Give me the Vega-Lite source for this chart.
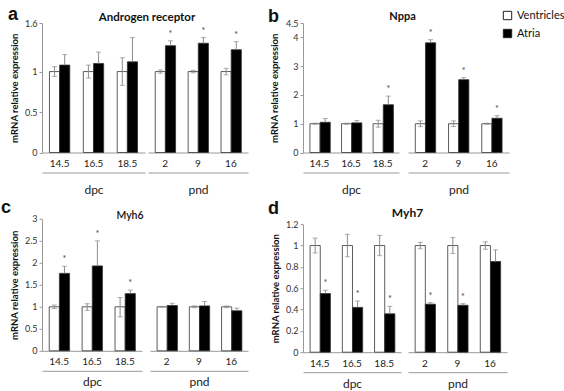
{
  "$schema": "https://vega.github.io/schema/vega-lite/v6.json",
  "padding": {"left": 1, "top": 6, "right": 0, "bottom": 0},
  "config": {
    "view": {"stroke": null},
    "axis": {"grid": false, "labelFont": "Lato", "titleFont": "Lato", "labelOverlap": false},
    "axisY": {"tickCount": 20},
    "title": {"font": "Lato", "color": "#111"},
    "text": {"font": "Lato"},
    "legend": {"orient": "none", "legendX": 460, "legendY": -13, "symbolType": "square", "symbolSize": 70, "symbolStrokeColor": "#222", "symbolStrokeWidth": 1, "labelFont": "Lato", "labelFontSize": 11, "labelColor": "#111", "rowPadding": 5, "title": null}
  },
  "data": {"values": [
    {"gene": "AR", "period": "dpc", "age": "14.5", "tissue": "Ventricles", "value": 1, "lo": 0.94, "hi": 1.06, "sig": ""},
    {"gene": "AR", "period": "dpc", "age": "14.5", "tissue": "Atria", "value": 1.08, "lo": 1.08, "hi": 1.21, "sig": ""},
    {"gene": "AR", "period": "dpc", "age": "16.5", "tissue": "Ventricles", "value": 1, "lo": 0.92, "hi": 1.08, "sig": ""},
    {"gene": "AR", "period": "dpc", "age": "16.5", "tissue": "Atria", "value": 1.1, "lo": 1.1, "hi": 1.24, "sig": ""},
    {"gene": "AR", "period": "dpc", "age": "18.5", "tissue": "Ventricles", "value": 1, "lo": 0.83, "hi": 1.17, "sig": ""},
    {"gene": "AR", "period": "dpc", "age": "18.5", "tissue": "Atria", "value": 1.12, "lo": 1.12, "hi": 1.42, "sig": ""},
    {"gene": "AR", "period": "pnd", "age": "2", "tissue": "Ventricles", "value": 1, "lo": 0.98, "hi": 1.02, "sig": ""},
    {"gene": "AR", "period": "pnd", "age": "2", "tissue": "Atria", "value": 1.32, "lo": 1.32, "hi": 1.38, "sig": "*"},
    {"gene": "AR", "period": "pnd", "age": "9", "tissue": "Ventricles", "value": 1, "lo": 0.985, "hi": 1.015, "sig": ""},
    {"gene": "AR", "period": "pnd", "age": "9", "tissue": "Atria", "value": 1.35, "lo": 1.35, "hi": 1.42, "sig": "*"},
    {"gene": "AR", "period": "pnd", "age": "16", "tissue": "Ventricles", "value": 1, "lo": 0.96, "hi": 1.04, "sig": ""},
    {"gene": "AR", "period": "pnd", "age": "16", "tissue": "Atria", "value": 1.27, "lo": 1.27, "hi": 1.37, "sig": "*"},
    {"gene": "Nppa", "period": "dpc", "age": "14.5", "tissue": "Ventricles", "value": 1, "lo": 0.98, "hi": 1.02, "sig": ""},
    {"gene": "Nppa", "period": "dpc", "age": "14.5", "tissue": "Atria", "value": 1.05, "lo": 1.05, "hi": 1.18, "sig": ""},
    {"gene": "Nppa", "period": "dpc", "age": "16.5", "tissue": "Ventricles", "value": 1, "lo": 0.98, "hi": 1.02, "sig": ""},
    {"gene": "Nppa", "period": "dpc", "age": "16.5", "tissue": "Atria", "value": 1.03, "lo": 1.03, "hi": 1.11, "sig": ""},
    {"gene": "Nppa", "period": "dpc", "age": "18.5", "tissue": "Ventricles", "value": 1, "lo": 0.88, "hi": 1.12, "sig": ""},
    {"gene": "Nppa", "period": "dpc", "age": "18.5", "tissue": "Atria", "value": 1.66, "lo": 1.66, "hi": 1.96, "sig": "*"},
    {"gene": "Nppa", "period": "pnd", "age": "2", "tissue": "Ventricles", "value": 1, "lo": 0.9, "hi": 1.1, "sig": ""},
    {"gene": "Nppa", "period": "pnd", "age": "2", "tissue": "Atria", "value": 3.81, "lo": 3.81, "hi": 3.92, "sig": "*"},
    {"gene": "Nppa", "period": "pnd", "age": "9", "tissue": "Ventricles", "value": 1, "lo": 0.9, "hi": 1.1, "sig": ""},
    {"gene": "Nppa", "period": "pnd", "age": "9", "tissue": "Atria", "value": 2.53, "lo": 2.53, "hi": 2.6, "sig": "*"},
    {"gene": "Nppa", "period": "pnd", "age": "16", "tissue": "Ventricles", "value": 1, "lo": 0.98, "hi": 1.02, "sig": ""},
    {"gene": "Nppa", "period": "pnd", "age": "16", "tissue": "Atria", "value": 1.19, "lo": 1.19, "hi": 1.28, "sig": "*"},
    {"gene": "Myh6", "period": "dpc", "age": "14.5", "tissue": "Ventricles", "value": 1, "lo": 0.96, "hi": 1.04, "sig": ""},
    {"gene": "Myh6", "period": "dpc", "age": "14.5", "tissue": "Atria", "value": 1.76, "lo": 1.76, "hi": 1.92, "sig": "*"},
    {"gene": "Myh6", "period": "dpc", "age": "16.5", "tissue": "Ventricles", "value": 1, "lo": 0.92, "hi": 1.07, "sig": ""},
    {"gene": "Myh6", "period": "dpc", "age": "16.5", "tissue": "Atria", "value": 1.93, "lo": 1.93, "hi": 2.5, "sig": "*"},
    {"gene": "Myh6", "period": "dpc", "age": "18.5", "tissue": "Ventricles", "value": 1, "lo": 0.77, "hi": 1.21, "sig": ""},
    {"gene": "Myh6", "period": "dpc", "age": "18.5", "tissue": "Atria", "value": 1.3, "lo": 1.3, "hi": 1.38, "sig": "*"},
    {"gene": "Myh6", "period": "pnd", "age": "2", "tissue": "Ventricles", "value": 1, "lo": 0.99, "hi": 1.01, "sig": ""},
    {"gene": "Myh6", "period": "pnd", "age": "2", "tissue": "Atria", "value": 1.03, "lo": 1.03, "hi": 1.08, "sig": ""},
    {"gene": "Myh6", "period": "pnd", "age": "9", "tissue": "Ventricles", "value": 1, "lo": 0.98, "hi": 1.02, "sig": ""},
    {"gene": "Myh6", "period": "pnd", "age": "9", "tissue": "Atria", "value": 1.02, "lo": 1.02, "hi": 1.12, "sig": ""},
    {"gene": "Myh6", "period": "pnd", "age": "16", "tissue": "Ventricles", "value": 1, "lo": 0.98, "hi": 1.02, "sig": ""},
    {"gene": "Myh6", "period": "pnd", "age": "16", "tissue": "Atria", "value": 0.91, "lo": 0.91, "hi": 0.97, "sig": ""},
    {"gene": "Myh7", "period": "dpc", "age": "14.5", "tissue": "Ventricles", "value": 1, "lo": 0.93, "hi": 1.07, "sig": ""},
    {"gene": "Myh7", "period": "dpc", "age": "14.5", "tissue": "Atria", "value": 0.55, "lo": 0.55, "hi": 0.58, "sig": "*"},
    {"gene": "Myh7", "period": "dpc", "age": "16.5", "tissue": "Ventricles", "value": 1, "lo": 0.895, "hi": 1.105, "sig": ""},
    {"gene": "Myh7", "period": "dpc", "age": "16.5", "tissue": "Atria", "value": 0.42, "lo": 0.42, "hi": 0.48, "sig": "*"},
    {"gene": "Myh7", "period": "dpc", "age": "18.5", "tissue": "Ventricles", "value": 1, "lo": 0.905, "hi": 1.095, "sig": ""},
    {"gene": "Myh7", "period": "dpc", "age": "18.5", "tissue": "Atria", "value": 0.36, "lo": 0.36, "hi": 0.43, "sig": "*"},
    {"gene": "Myh7", "period": "pnd", "age": "2", "tissue": "Ventricles", "value": 1, "lo": 0.97, "hi": 1.03, "sig": ""},
    {"gene": "Myh7", "period": "pnd", "age": "2", "tissue": "Atria", "value": 0.45, "lo": 0.45, "hi": 0.465, "sig": "*"},
    {"gene": "Myh7", "period": "pnd", "age": "9", "tissue": "Ventricles", "value": 1, "lo": 0.925, "hi": 1.075, "sig": ""},
    {"gene": "Myh7", "period": "pnd", "age": "9", "tissue": "Atria", "value": 0.44, "lo": 0.44, "hi": 0.455, "sig": "*"},
    {"gene": "Myh7", "period": "pnd", "age": "16", "tissue": "Ventricles", "value": 1, "lo": 0.965, "hi": 1.035, "sig": ""},
    {"gene": "Myh7", "period": "pnd", "age": "16", "tissue": "Atria", "value": 0.85, "lo": 0.85, "hi": 0.96, "sig": ""}
  ]},
  "align": "none",
  "spacing": 20,
  "hconcat": [
    {
      "align": "each",
      "spacing": 1.8,
      "vconcat": [
        {
          "bounds": "flush", "spacing": 3,
          "hconcat": [
            {
              "width": 103, "height": 129.5,
              "title": {"text": "a", "anchor": "start", "frame": "group", "dx": -34, "font": "Liberation Sans", "fontSize": 18, "fontWeight": "bold", "offset": -5.3},
              "transform": [{"filter": "datum.gene === 'AR' && datum.period === 'dpc'"}],
              "layer": [
                {
                  "encoding": {
                    "x": {"field": "age", "type": "nominal", "sort": null, "scale": {"paddingInner": 0.4, "paddingOuter": 0.22}, "axis": {"orient": "bottom", "title": null, "labelAngle": 0, "ticks": false, "domainColor": "#999", "labelPadding": 6, "labelFontSize": 10, "labelColor": "#222"}},
                    "xOffset": {"field": "tissue", "type": "nominal", "sort": ["Ventricles", "Atria"]}
                  },
                  "layer": [
                    {"mark": {"type": "bar", "stroke": "#333", "strokeWidth": 0.8}, "encoding": {"y": {"field": "value", "type": "quantitative", "title": "mRNA relative expression", "scale": {"domain": [0, 1.6]}, "axis": {"title": "mRNA relative expression", "values": [0, 0.5, 1, 1.6], "tickCount": 20, "format": "~g", "labelOverlap": false, "domainColor": "#999", "tickColor": "#999", "tickSize": 3, "labelFontSize": 9, "labelColor": "#333", "titleFontSize": 9.5, "titleFontWeight": "bold", "titleColor": "#111", "titlePadding": 5}}, "fill": {"field": "tissue", "type": "nominal", "title": null, "scale": {"domain": ["Ventricles", "Atria"], "range": ["#ffffff", "#000000"]}}}},
                    {"mark": {"type": "rule", "color": "#8c8c8c"}, "encoding": {"y": {"field": "lo", "type": "quantitative", "title": "mRNA relative expression", "scale": {"domain": [0, 1.6]}}, "y2": {"field": "hi"}}},
                    {"mark": {"type": "tick", "color": "#8c8c8c", "size": 5, "thickness": 1}, "encoding": {"y": {"field": "hi", "type": "quantitative", "title": "mRNA relative expression", "scale": {"domain": [0, 1.6]}}}},
                    {"transform": [{"filter": "datum.tissue === 'Ventricles'"}], "mark": {"type": "tick", "color": "#8c8c8c", "size": 5, "thickness": 1}, "encoding": {"y": {"field": "lo", "type": "quantitative", "title": "mRNA relative expression", "scale": {"domain": [0, 1.6]}}}},
                    {"transform": [{"filter": "datum.sig === '*'"}], "mark": {"type": "text", "dy": -7, "fontSize": 9, "color": "#444"}, "encoding": {"y": {"field": "hi", "type": "quantitative", "title": "mRNA relative expression", "scale": {"domain": [0, 1.6]}}, "text": {"field": "sig"}}}
                  ]
                },
                {"mark": {"type": "rule", "opacity": 0}, "encoding": {"x": {"field": "period", "type": "nominal", "axis": {"orient": "bottom", "offset": 20, "ticks": false, "labels": false, "domainColor": "#999", "title": "dpc", "titleFontSize": 12, "titleFontWeight": "normal", "titleColor": "#222", "titlePadding": 11.7}}}}
              ],
              "resolve": {"scale": {"x": "independent"}}
            },
            {
              "width": 100, "height": 129.5,
              "title": {"text": "Androgen receptor", "anchor": "middle", "frame": "group", "dx": -51, "fontSize": 11.5, "fontWeight": "bold", "offset": 0},
              "transform": [{"filter": "datum.gene === 'AR' && datum.period === 'pnd'"}],
              "layer": [
                {
                  "encoding": {
                    "x": {"field": "age", "type": "nominal", "sort": null, "scale": {"paddingInner": 0.4, "paddingOuter": 0.22}, "axis": {"orient": "bottom", "title": null, "labelAngle": 0, "ticks": false, "domainColor": "#999", "labelPadding": 6, "labelFontSize": 10, "labelColor": "#222"}},
                    "xOffset": {"field": "tissue", "type": "nominal", "sort": ["Ventricles", "Atria"]}
                  },
                  "layer": [
                    {"mark": {"type": "bar", "stroke": "#333", "strokeWidth": 0.8}, "encoding": {"y": {"field": "value", "type": "quantitative", "scale": {"domain": [0, 1.6]}, "axis": null}, "fill": {"field": "tissue", "type": "nominal", "title": null, "scale": {"domain": ["Ventricles", "Atria"], "range": ["#ffffff", "#000000"]}}}},
                    {"mark": {"type": "rule", "color": "#8c8c8c"}, "encoding": {"y": {"field": "lo", "type": "quantitative", "scale": {"domain": [0, 1.6]}, "axis": null}, "y2": {"field": "hi"}}},
                    {"mark": {"type": "tick", "color": "#8c8c8c", "size": 5, "thickness": 1}, "encoding": {"y": {"field": "hi", "type": "quantitative", "scale": {"domain": [0, 1.6]}, "axis": null}}},
                    {"transform": [{"filter": "datum.tissue === 'Ventricles'"}], "mark": {"type": "tick", "color": "#8c8c8c", "size": 5, "thickness": 1}, "encoding": {"y": {"field": "lo", "type": "quantitative", "scale": {"domain": [0, 1.6]}, "axis": null}}},
                    {"transform": [{"filter": "datum.sig === '*'"}], "mark": {"type": "text", "dy": -7, "fontSize": 9, "color": "#444"}, "encoding": {"y": {"field": "hi", "type": "quantitative", "scale": {"domain": [0, 1.6]}, "axis": null}, "text": {"field": "sig"}}}
                  ]
                },
                {"mark": {"type": "rule", "opacity": 0}, "encoding": {"x": {"field": "period", "type": "nominal", "axis": {"orient": "bottom", "offset": 20, "ticks": false, "labels": false, "domainColor": "#999", "title": "pnd", "titleFontSize": 12, "titleFontWeight": "normal", "titleColor": "#222", "titlePadding": 11.7}}}}
              ],
              "resolve": {"scale": {"x": "independent"}}
            }
          ]
        },
        {
          "bounds": "flush", "spacing": 8,
          "hconcat": [
            {
              "width": 100, "height": 132,
              "title": {"text": "c", "anchor": "start", "frame": "group", "dx": -41, "font": "Liberation Sans", "fontSize": 18, "fontWeight": "bold", "offset": -1.7},
              "transform": [{"filter": "datum.gene === 'Myh6' && datum.period === 'dpc'"}],
              "layer": [
                {
                  "encoding": {
                    "x": {"field": "age", "type": "nominal", "sort": null, "scale": {"paddingInner": 0.4, "paddingOuter": 0.22}, "axis": {"orient": "bottom", "title": null, "labelAngle": 0, "ticks": false, "domainColor": "#999", "labelPadding": 6, "labelFontSize": 10, "labelColor": "#222"}},
                    "xOffset": {"field": "tissue", "type": "nominal", "sort": ["Ventricles", "Atria"]}
                  },
                  "layer": [
                    {"mark": {"type": "bar", "stroke": "#333", "strokeWidth": 0.8}, "encoding": {"y": {"field": "value", "type": "quantitative", "title": "mRNA relative expression", "scale": {"domain": [0, 3]}, "axis": {"title": "mRNA relative expression", "values": [0, 0.5, 1, 1.5, 2, 2.5, 3], "tickCount": 20, "format": "~g", "labelOverlap": false, "domainColor": "#999", "tickColor": "#999", "tickSize": 3, "labelFontSize": 9, "labelColor": "#333", "titleFontSize": 9.5, "titleFontWeight": "bold", "titleColor": "#111", "titlePadding": 5}}, "fill": {"field": "tissue", "type": "nominal", "title": null, "scale": {"domain": ["Ventricles", "Atria"], "range": ["#ffffff", "#000000"]}}}},
                    {"mark": {"type": "rule", "color": "#8c8c8c"}, "encoding": {"y": {"field": "lo", "type": "quantitative", "title": "mRNA relative expression", "scale": {"domain": [0, 3]}}, "y2": {"field": "hi"}}},
                    {"mark": {"type": "tick", "color": "#8c8c8c", "size": 5, "thickness": 1}, "encoding": {"y": {"field": "hi", "type": "quantitative", "title": "mRNA relative expression", "scale": {"domain": [0, 3]}}}},
                    {"transform": [{"filter": "datum.tissue === 'Ventricles'"}], "mark": {"type": "tick", "color": "#8c8c8c", "size": 5, "thickness": 1}, "encoding": {"y": {"field": "lo", "type": "quantitative", "title": "mRNA relative expression", "scale": {"domain": [0, 3]}}}},
                    {"transform": [{"filter": "datum.sig === '*'"}], "mark": {"type": "text", "dy": -7, "fontSize": 9, "color": "#444"}, "encoding": {"y": {"field": "hi", "type": "quantitative", "title": "mRNA relative expression", "scale": {"domain": [0, 3]}}, "text": {"field": "sig"}}}
                  ]
                },
                {"mark": {"type": "rule", "opacity": 0}, "encoding": {"x": {"field": "period", "type": "nominal", "axis": {"orient": "bottom", "offset": 20, "ticks": false, "labels": false, "domainColor": "#999", "title": "dpc", "titleFontSize": 12, "titleFontWeight": "normal", "titleColor": "#222", "titlePadding": 6}}}}
              ],
              "resolve": {"scale": {"x": "independent"}}
            },
            {
              "width": 98, "height": 132,
              "title": {"text": "Myh6", "anchor": "middle", "frame": "group", "dx": -69, "fontSize": 10.5, "fontWeight": 600, "offset": -2.2},
              "transform": [{"filter": "datum.gene === 'Myh6' && datum.period === 'pnd'"}],
              "layer": [
                {
                  "encoding": {
                    "x": {"field": "age", "type": "nominal", "sort": null, "scale": {"paddingInner": 0.4, "paddingOuter": 0.22}, "axis": {"orient": "bottom", "title": null, "labelAngle": 0, "ticks": false, "domainColor": "#999", "labelPadding": 6, "labelFontSize": 10, "labelColor": "#222"}},
                    "xOffset": {"field": "tissue", "type": "nominal", "sort": ["Ventricles", "Atria"]}
                  },
                  "layer": [
                    {"mark": {"type": "bar", "stroke": "#333", "strokeWidth": 0.8}, "encoding": {"y": {"field": "value", "type": "quantitative", "scale": {"domain": [0, 3]}, "axis": null}, "fill": {"field": "tissue", "type": "nominal", "title": null, "scale": {"domain": ["Ventricles", "Atria"], "range": ["#ffffff", "#000000"]}}}},
                    {"mark": {"type": "rule", "color": "#8c8c8c"}, "encoding": {"y": {"field": "lo", "type": "quantitative", "scale": {"domain": [0, 3]}, "axis": null}, "y2": {"field": "hi"}}},
                    {"mark": {"type": "tick", "color": "#8c8c8c", "size": 5, "thickness": 1}, "encoding": {"y": {"field": "hi", "type": "quantitative", "scale": {"domain": [0, 3]}, "axis": null}}},
                    {"transform": [{"filter": "datum.tissue === 'Ventricles'"}], "mark": {"type": "tick", "color": "#8c8c8c", "size": 5, "thickness": 1}, "encoding": {"y": {"field": "lo", "type": "quantitative", "scale": {"domain": [0, 3]}, "axis": null}}},
                    {"transform": [{"filter": "datum.sig === '*'"}], "mark": {"type": "text", "dy": -7, "fontSize": 9, "color": "#444"}, "encoding": {"y": {"field": "hi", "type": "quantitative", "scale": {"domain": [0, 3]}, "axis": null}, "text": {"field": "sig"}}}
                  ]
                },
                {"mark": {"type": "rule", "opacity": 0}, "encoding": {"x": {"field": "period", "type": "nominal", "axis": {"orient": "bottom", "offset": 20, "ticks": false, "labels": false, "domainColor": "#999", "title": "pnd", "titleFontSize": 12, "titleFontWeight": "normal", "titleColor": "#222", "titlePadding": 6}}}}
              ],
              "resolve": {"scale": {"x": "independent"}}
            }
          ]
        }
      ]
    },
    {
      "align": "each",
      "spacing": 3.2,
      "vconcat": [
        {
          "bounds": "flush", "spacing": 9,
          "hconcat": [
            {
              "width": 96, "height": 129.5,
              "title": {"text": "b", "anchor": "start", "frame": "group", "dx": -35, "font": "Liberation Sans", "fontSize": 18, "fontWeight": "bold", "offset": -7},
              "transform": [{"filter": "datum.gene === 'Nppa' && datum.period === 'dpc'"}],
              "layer": [
                {
                  "encoding": {
                    "x": {"field": "age", "type": "nominal", "sort": null, "scale": {"paddingInner": 0.4, "paddingOuter": 0.22}, "axis": {"orient": "bottom", "title": null, "labelAngle": 0, "ticks": false, "domainColor": "#999", "labelPadding": 6, "labelFontSize": 10, "labelColor": "#222"}},
                    "xOffset": {"field": "tissue", "type": "nominal", "sort": ["Ventricles", "Atria"]}
                  },
                  "layer": [
                    {"mark": {"type": "bar", "stroke": "#333", "strokeWidth": 0.8}, "encoding": {"y": {"field": "value", "type": "quantitative", "title": "mRNA relative expression", "scale": {"domain": [0, 4.5]}, "axis": {"title": "mRNA relative expression", "values": [0, 1, 2, 3, 4, 4.5], "tickCount": 20, "format": "~g", "labelOverlap": false, "domainColor": "#999", "tickColor": "#999", "tickSize": 3, "labelFontSize": 9, "labelColor": "#333", "titleFontSize": 9.5, "titleFontWeight": "bold", "titleColor": "#111", "titlePadding": 6}}, "fill": {"field": "tissue", "type": "nominal", "title": null, "scale": {"domain": ["Ventricles", "Atria"], "range": ["#ffffff", "#000000"]}}}},
                    {"mark": {"type": "rule", "color": "#8c8c8c"}, "encoding": {"y": {"field": "lo", "type": "quantitative", "title": "mRNA relative expression", "scale": {"domain": [0, 4.5]}}, "y2": {"field": "hi"}}},
                    {"mark": {"type": "tick", "color": "#8c8c8c", "size": 5, "thickness": 1}, "encoding": {"y": {"field": "hi", "type": "quantitative", "title": "mRNA relative expression", "scale": {"domain": [0, 4.5]}}}},
                    {"transform": [{"filter": "datum.tissue === 'Ventricles'"}], "mark": {"type": "tick", "color": "#8c8c8c", "size": 5, "thickness": 1}, "encoding": {"y": {"field": "lo", "type": "quantitative", "title": "mRNA relative expression", "scale": {"domain": [0, 4.5]}}}},
                    {"transform": [{"filter": "datum.sig === '*'"}], "mark": {"type": "text", "dy": -7, "fontSize": 9, "color": "#444"}, "encoding": {"y": {"field": "hi", "type": "quantitative", "title": "mRNA relative expression", "scale": {"domain": [0, 4.5]}}, "text": {"field": "sig"}}}
                  ]
                },
                {"mark": {"type": "rule", "opacity": 0}, "encoding": {"x": {"field": "period", "type": "nominal", "axis": {"orient": "bottom", "offset": 20, "ticks": false, "labels": false, "domainColor": "#999", "title": "dpc", "titleFontSize": 12, "titleFontWeight": "normal", "titleColor": "#222", "titlePadding": 11.7}}}}
              ],
              "resolve": {"scale": {"x": "independent"}}
            },
            {
              "width": 101, "height": 129.5,
              "title": {"text": "Nppa", "anchor": "middle", "frame": "group", "dx": -56, "fontSize": 11, "fontWeight": "bold", "offset": 1.5},
              "transform": [{"filter": "datum.gene === 'Nppa' && datum.period === 'pnd'"}],
              "layer": [
                {
                  "encoding": {
                    "x": {"field": "age", "type": "nominal", "sort": null, "scale": {"paddingInner": 0.4, "paddingOuter": 0.22}, "axis": {"orient": "bottom", "title": null, "labelAngle": 0, "ticks": false, "domainColor": "#999", "labelPadding": 6, "labelFontSize": 10, "labelColor": "#222"}},
                    "xOffset": {"field": "tissue", "type": "nominal", "sort": ["Ventricles", "Atria"]}
                  },
                  "layer": [
                    {"mark": {"type": "bar", "stroke": "#333", "strokeWidth": 0.8}, "encoding": {"y": {"field": "value", "type": "quantitative", "scale": {"domain": [0, 4.5]}, "axis": null}, "fill": {"field": "tissue", "type": "nominal", "title": null, "scale": {"domain": ["Ventricles", "Atria"], "range": ["#ffffff", "#000000"]}}}},
                    {"mark": {"type": "rule", "color": "#8c8c8c"}, "encoding": {"y": {"field": "lo", "type": "quantitative", "scale": {"domain": [0, 4.5]}, "axis": null}, "y2": {"field": "hi"}}},
                    {"mark": {"type": "tick", "color": "#8c8c8c", "size": 5, "thickness": 1}, "encoding": {"y": {"field": "hi", "type": "quantitative", "scale": {"domain": [0, 4.5]}, "axis": null}}},
                    {"transform": [{"filter": "datum.tissue === 'Ventricles'"}], "mark": {"type": "tick", "color": "#8c8c8c", "size": 5, "thickness": 1}, "encoding": {"y": {"field": "lo", "type": "quantitative", "scale": {"domain": [0, 4.5]}, "axis": null}}},
                    {"transform": [{"filter": "datum.sig === '*'"}], "mark": {"type": "text", "dy": -7, "fontSize": 9, "color": "#444"}, "encoding": {"y": {"field": "hi", "type": "quantitative", "scale": {"domain": [0, 4.5]}, "axis": null}, "text": {"field": "sig"}}}
                  ]
                },
                {"mark": {"type": "rule", "opacity": 0}, "encoding": {"x": {"field": "period", "type": "nominal", "axis": {"orient": "bottom", "offset": 20, "ticks": false, "labels": false, "domainColor": "#999", "title": "pnd", "titleFontSize": 12, "titleFontWeight": "normal", "titleColor": "#222", "titlePadding": 11.7}}}}
              ],
              "resolve": {"scale": {"x": "independent"}}
            }
          ]
        },
        {
          "bounds": "flush", "spacing": 7,
          "hconcat": [
            {
              "width": 98, "height": 128,
              "title": {"text": "d", "anchor": "start", "frame": "group", "dx": -35, "font": "Liberation Sans", "fontSize": 18, "fontWeight": "bold", "offset": 2.3},
              "transform": [{"filter": "datum.gene === 'Myh7' && datum.period === 'dpc'"}],
              "layer": [
                {
                  "encoding": {
                    "x": {"field": "age", "type": "nominal", "sort": null, "scale": {"paddingInner": 0.4, "paddingOuter": 0.22}, "axis": {"orient": "bottom", "title": null, "labelAngle": 0, "ticks": false, "domainColor": "#999", "labelPadding": 6, "labelFontSize": 10, "labelColor": "#222"}},
                    "xOffset": {"field": "tissue", "type": "nominal", "sort": ["Ventricles", "Atria"]}
                  },
                  "layer": [
                    {"mark": {"type": "bar", "stroke": "#333", "strokeWidth": 0.8}, "encoding": {"y": {"field": "value", "type": "quantitative", "title": "mRNA relative expression", "scale": {"domain": [0, 1.2]}, "axis": {"title": "mRNA relative expression", "values": [0, 0.2, 0.4, 0.6, 0.8, 1, 1.2], "tickCount": 20, "format": "~g", "labelOverlap": false, "domainColor": "#999", "tickColor": "#999", "tickSize": 3, "labelFontSize": 9, "labelColor": "#333", "titleFontSize": 9.5, "titleFontWeight": "bold", "titleColor": "#111", "titlePadding": 5}}, "fill": {"field": "tissue", "type": "nominal", "title": null, "scale": {"domain": ["Ventricles", "Atria"], "range": ["#ffffff", "#000000"]}}}},
                    {"mark": {"type": "rule", "color": "#8c8c8c"}, "encoding": {"y": {"field": "lo", "type": "quantitative", "title": "mRNA relative expression", "scale": {"domain": [0, 1.2]}}, "y2": {"field": "hi"}}},
                    {"mark": {"type": "tick", "color": "#8c8c8c", "size": 5, "thickness": 1}, "encoding": {"y": {"field": "hi", "type": "quantitative", "title": "mRNA relative expression", "scale": {"domain": [0, 1.2]}}}},
                    {"transform": [{"filter": "datum.tissue === 'Ventricles'"}], "mark": {"type": "tick", "color": "#8c8c8c", "size": 5, "thickness": 1}, "encoding": {"y": {"field": "lo", "type": "quantitative", "title": "mRNA relative expression", "scale": {"domain": [0, 1.2]}}}},
                    {"transform": [{"filter": "datum.sig === '*'"}], "mark": {"type": "text", "dy": -7, "fontSize": 9, "color": "#444"}, "encoding": {"y": {"field": "hi", "type": "quantitative", "title": "mRNA relative expression", "scale": {"domain": [0, 1.2]}}, "text": {"field": "sig"}}}
                  ]
                },
                {"mark": {"type": "rule", "opacity": 0}, "encoding": {"x": {"field": "period", "type": "nominal", "axis": {"orient": "bottom", "offset": 20, "ticks": false, "labels": false, "domainColor": "#999", "title": "dpc", "titleFontSize": 12, "titleFontWeight": "normal", "titleColor": "#222", "titlePadding": 6}}}}
              ],
              "resolve": {"scale": {"x": "independent"}}
            },
            {
              "width": 99, "height": 128,
              "title": {"text": "Myh7", "anchor": "middle", "frame": "group", "dx": -50, "fontSize": 12, "fontWeight": "bold", "offset": 4.3},
              "transform": [{"filter": "datum.gene === 'Myh7' && datum.period === 'pnd'"}],
              "layer": [
                {
                  "encoding": {
                    "x": {"field": "age", "type": "nominal", "sort": null, "scale": {"paddingInner": 0.4, "paddingOuter": 0.22}, "axis": {"orient": "bottom", "title": null, "labelAngle": 0, "ticks": false, "domainColor": "#999", "labelPadding": 6, "labelFontSize": 10, "labelColor": "#222"}},
                    "xOffset": {"field": "tissue", "type": "nominal", "sort": ["Ventricles", "Atria"]}
                  },
                  "layer": [
                    {"mark": {"type": "bar", "stroke": "#333", "strokeWidth": 0.8}, "encoding": {"y": {"field": "value", "type": "quantitative", "scale": {"domain": [0, 1.2]}, "axis": null}, "fill": {"field": "tissue", "type": "nominal", "title": null, "scale": {"domain": ["Ventricles", "Atria"], "range": ["#ffffff", "#000000"]}}}},
                    {"mark": {"type": "rule", "color": "#8c8c8c"}, "encoding": {"y": {"field": "lo", "type": "quantitative", "scale": {"domain": [0, 1.2]}, "axis": null}, "y2": {"field": "hi"}}},
                    {"mark": {"type": "tick", "color": "#8c8c8c", "size": 5, "thickness": 1}, "encoding": {"y": {"field": "hi", "type": "quantitative", "scale": {"domain": [0, 1.2]}, "axis": null}}},
                    {"transform": [{"filter": "datum.tissue === 'Ventricles'"}], "mark": {"type": "tick", "color": "#8c8c8c", "size": 5, "thickness": 1}, "encoding": {"y": {"field": "lo", "type": "quantitative", "scale": {"domain": [0, 1.2]}, "axis": null}}},
                    {"transform": [{"filter": "datum.sig === '*'"}], "mark": {"type": "text", "dy": -7, "fontSize": 9, "color": "#444"}, "encoding": {"y": {"field": "hi", "type": "quantitative", "scale": {"domain": [0, 1.2]}, "axis": null}, "text": {"field": "sig"}}}
                  ]
                },
                {"mark": {"type": "rule", "opacity": 0}, "encoding": {"x": {"field": "period", "type": "nominal", "axis": {"orient": "bottom", "offset": 20, "ticks": false, "labels": false, "domainColor": "#999", "title": "pnd", "titleFontSize": 12, "titleFontWeight": "normal", "titleColor": "#222", "titlePadding": 6}}}}
              ],
              "resolve": {"scale": {"x": "independent"}}
            }
          ]
        }
      ]
    }
  ]
}
